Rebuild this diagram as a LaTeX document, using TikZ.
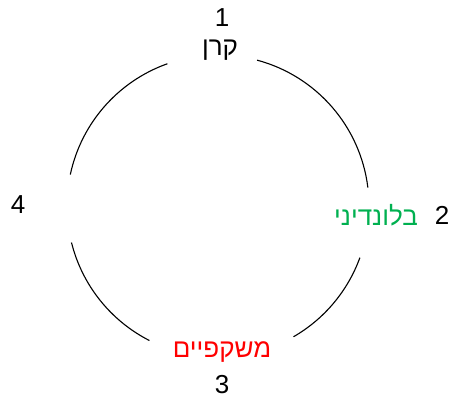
\documentclass[tikz,border=0pt]{standalone}
\usepackage{fontspec}
\setmainfont{Liberation Sans}
\newfontfamily\hebfont[Script=Hebrew]{Liberation Sans}
\TeXXeTstate=1
\definecolor{hgreen}{RGB}{0,176,80}
\definecolor{hred}{RGB}{255,0,0}
\tikzset{
  lbl/.style={inner sep=0pt, font=\fontsize{26}{30}\selectfont},
  heb/.style={inner sep=0pt, font=\fontsize{26}{30}\selectfont\hebfont},
  ring/.style={draw=black, line width=1.1pt}
}
\begin{document}
\begin{tikzpicture}[x=1pt,y=-1pt]
\useasboundingbox (0,0) rectangle (452,403);
\coordinate (c) at (218,206);
\node[lbl] (n1) at (222,18) {1};
\node[heb] (keren) at (220,50) {\beginR קרן\endR};
\node[lbl] (n2) at (442,215) {2};
\node[heb, text=hgreen] (blond) at (376,215) {\beginR בלונדיני\endR};
\node[heb, text=hred] (glasses) at (222,352) {\beginR משקפיים\endR};
\node[lbl] (n3) at (222,385) {3};
\node[lbl] (n4) at (18,205) {4};
% arcs (angles in y-down frame: negate)
\draw[ring] (c) ++(-75:151) arc[start angle=-75, end angle=-7, radius=151];
\draw[ring] (c) ++(20:151) arc[start angle=20, end angle=60, radius=151];
\draw[ring] (c) ++(117:151) arc[start angle=117, end angle=166, radius=151];
\draw[ring] (c) ++(192:151) arc[start angle=192, end angle=250.4, radius=151];
\end{tikzpicture}
\end{document}
